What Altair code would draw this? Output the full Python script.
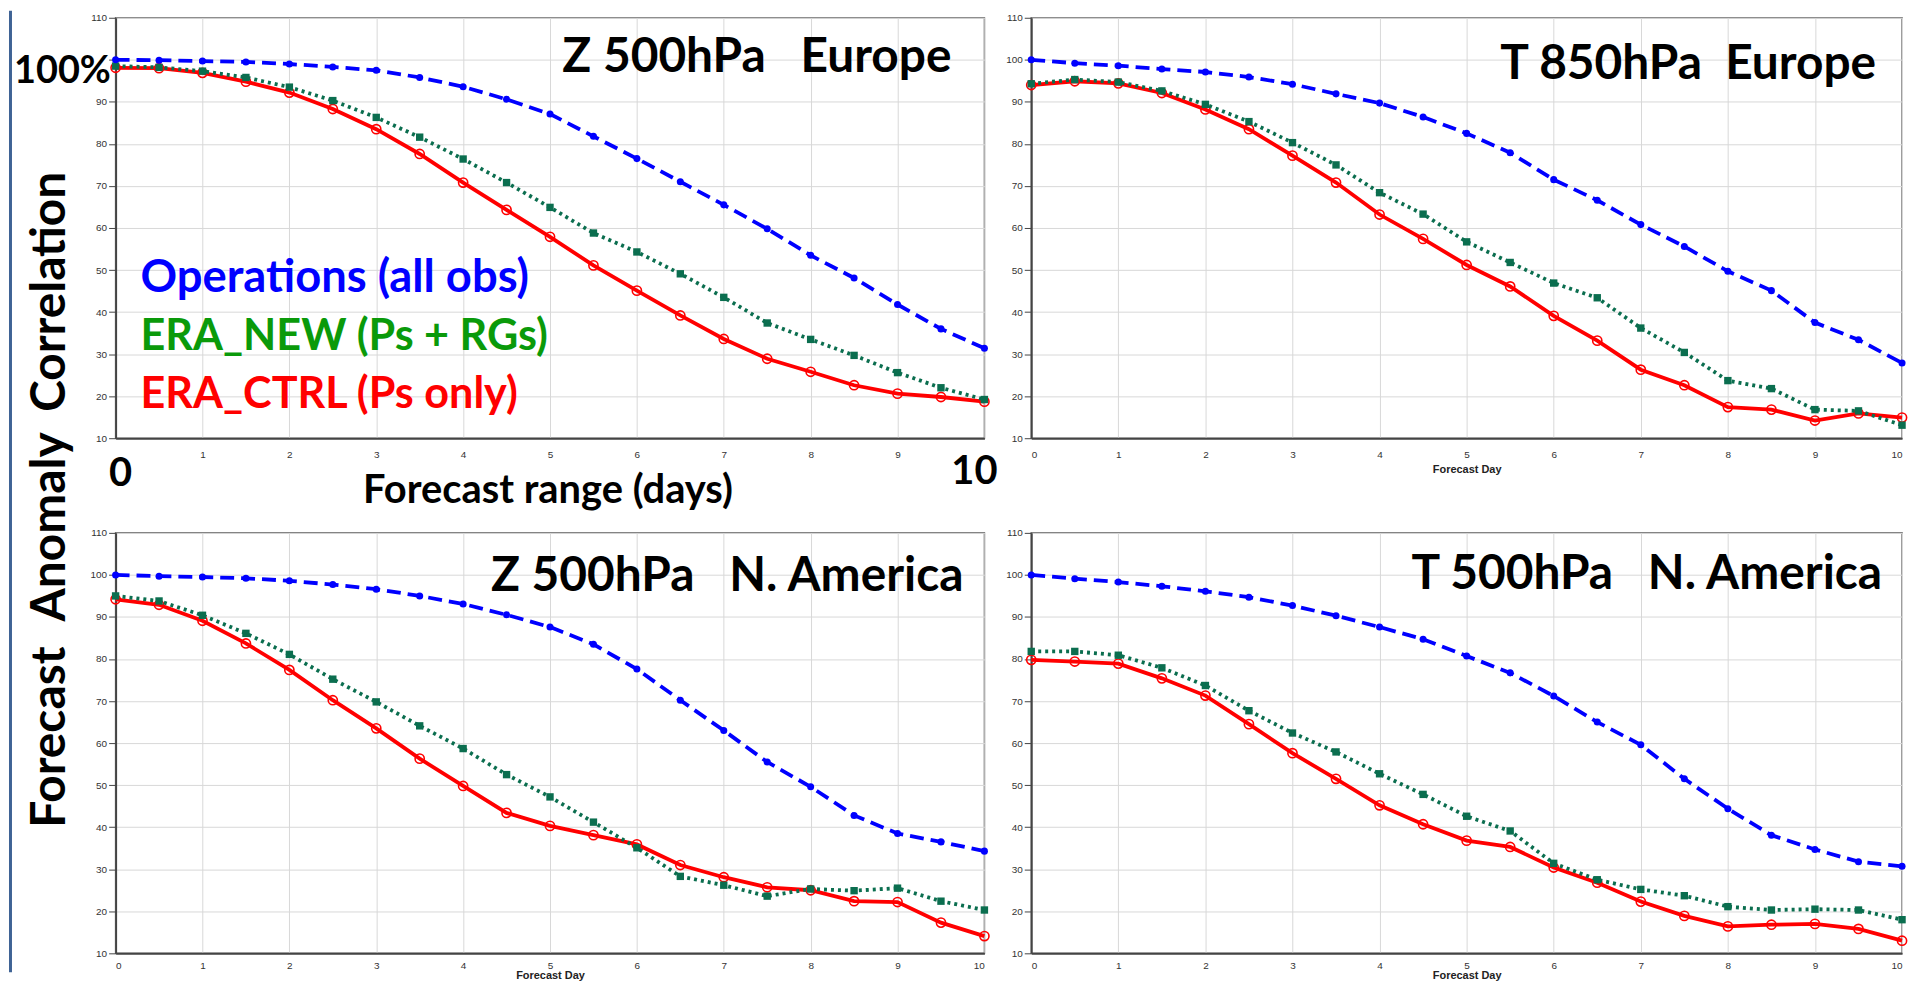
import altair as alt
import pandas as pd

# ---------------- data ----------------
days = [0, 0.5, 1, 1.5, 2, 2.5, 3, 3.5, 4, 4.5, 5, 5.5, 6, 6.5, 7, 7.5, 8, 8.5, 9, 9.5, 10]
x_ticks = [0, 1, 2, 3, 4, 5, 6, 7, 8, 9, 10]
y_ticks = [10, 20, 30, 40, 50, 60, 70, 80, 90, 100, 110]

series_keys = ["ops", "new", "ctrl"]
series_labels = ["Operations (all obs)", "ERA_NEW (Ps + RGs)", "ERA_CTRL (Ps only)"]

panel_keys = ["z500_eu", "t850_eu", "z500_na", "t500_na"]
panel_titles = ["Z 500hPa   Europe", "T 850hPa  Europe", "Z 500hPa   N. America", "T 500hPa   N. America"]

z500_eu_ops = [100, 99.9, 99.7, 99.5, 99.0, 98.3, 97.5, 95.8, 93.6, 90.6, 87.1, 81.8, 76.5, 71.0, 65.5, 59.8, 53.5, 48.1, 41.8, 36.0, 31.4]
z500_eu_new = [98.5, 98.2, 97.3, 95.8, 93.5, 90.3, 86.3, 81.6, 76.4, 70.8, 64.9, 58.8, 54.3, 49.1, 43.5, 37.4, 33.5, 29.7, 25.6, 22.0, 19.2]
z500_eu_ctrl = [98.1, 98.0, 96.9, 94.8, 92.2, 88.3, 83.5, 77.6, 70.8, 64.3, 57.9, 51.1, 45.1, 39.2, 33.6, 28.9, 25.8, 22.6, 20.6, 19.8, 18.7]

t850_eu_ops = [100, 99.2, 98.6, 97.8, 97.1, 95.9, 94.2, 91.9, 89.7, 86.4, 82.5, 77.9, 71.5, 66.6, 60.8, 55.6, 49.7, 45.1, 37.5, 33.4, 27.9]
t850_eu_new = [94.3, 95.3, 94.7, 92.6, 89.4, 85.3, 80.3, 75.0, 68.4, 63.3, 56.7, 51.8, 46.9, 43.4, 36.2, 30.4, 23.7, 21.8, 16.8, 16.5, 13.1]
t850_eu_ctrl = [94.0, 94.9, 94.4, 92.1, 88.2, 83.5, 77.2, 70.8, 63.2, 57.4, 51.2, 46.1, 39.1, 33.2, 26.3, 22.6, 17.4, 16.8, 14.2, 15.9, 14.9]

z500_na_ops = [100, 99.7, 99.5, 99.2, 98.6, 97.7, 96.6, 95.0, 93.1, 90.5, 87.6, 83.5, 77.6, 70.2, 63.0, 55.5, 49.6, 42.8, 38.5, 36.5, 34.3]
z500_na_new = [95.0, 93.8, 90.4, 86.1, 81.1, 75.2, 69.8, 64.1, 58.7, 52.5, 47.2, 41.2, 35.1, 28.3, 26.2, 23.6, 25.3, 24.9, 25.5, 22.4, 20.3]
z500_na_ctrl = [94.2, 92.9, 89.1, 83.7, 77.4, 70.2, 63.5, 56.3, 49.8, 43.4, 40.3, 38.1, 35.9, 31.0, 28.1, 25.7, 25.0, 22.4, 22.2, 17.3, 14.1]

t500_na_ops = [100, 99.1, 98.3, 97.3, 96.1, 94.7, 92.7, 90.3, 87.6, 84.7, 80.7, 76.7, 71.2, 65.0, 59.6, 51.5, 44.4, 38.1, 34.7, 31.8, 30.7]
t500_na_new = [81.8, 81.8, 80.9, 77.9, 73.7, 67.7, 62.4, 57.9, 52.7, 47.8, 42.6, 39.1, 31.4, 27.5, 25.2, 23.7, 21.1, 20.3, 20.5, 20.3, 18.0]
t500_na_ctrl = [79.8, 79.4, 78.9, 75.4, 71.3, 64.5, 57.6, 51.5, 45.2, 40.7, 36.8, 35.3, 30.4, 26.8, 22.3, 18.9, 16.4, 16.8, 17.0, 15.8, 13.0]

annot_y_words = ["Forecast", "Anomaly", "Correlation"]
annot_100 = "100%"
annot_x0 = "0"
annot_x10 = "10"
annot_xtitle = "Forecast range (days)"

# ---------------- table ----------------
values = {
    "z500_eu": [z500_eu_ops, z500_eu_new, z500_eu_ctrl],
    "t850_eu": [t850_eu_ops, t850_eu_new, t850_eu_ctrl],
    "z500_na": [z500_na_ops, z500_na_new, z500_na_ctrl],
    "t500_na": [t500_na_ops, t500_na_new, t500_na_ctrl],
}
rows = []
for pk in panel_keys:
    for sk, vals in zip(series_keys, values[pk]):
        for d, v in zip(days, vals):
            rows.append({"panel": pk, "series": sk, "day": d, "value": v})
df = pd.DataFrame(rows)

NB = "\u00a0"
def nb(s):
    return s.replace(" ", NB)

BLUE = "#0000ff"
GREEN_LINE = "#0b6e4f"
GREEN_TEXT = "#0a9a0a"
RED = "#ff0000"

style = {
    "ops": dict(color=BLUE, dash=[14, 7], shape="circle", filled=True, size=50),
    "new": dict(color=GREEN_LINE, dash=[3, 4], shape="square", filled=True, size=55),
    "ctrl": dict(color=RED, dash=None, shape="circle", filled=False, size=85),
}

FONT = "Lato"


def text_layer(txt, x, y, size, color="black", align="left", angle=0, baseline="alphabetic"):
    kw = dict(font=FONT, fontWeight="bold", fontSize=size, color=color,
              align=align, baseline=baseline)
    if angle:
        kw["angle"] = angle
    return alt.Chart(pd.DataFrame({"t": [nb(txt)]})).mark_text(**kw).encode(
        text="t:N", x=alt.value(x), y=alt.value(y)
    )


def make_panel(i, width, height, title_x, title_y, top_row, first=False, extras=()):
    d = df[df["panel"] == panel_keys[i]]
    xkw = dict(values=x_ticks, grid=True, ticks=False,
               labelPadding=11 if top_row else 7,
               titleY=34 if top_row else 25, titleBaseline="alphabetic")
    ykw = dict(values=y_ticks, grid=True, tickSize=7, labelPadding=2, title=None)
    if first:
        xkw["title"] = None
        xkw["labelExpr"] = "datum.value == 0 || datum.value == 10 ? '' : datum.label"
        ykw["labelExpr"] = "datum.value == 100 ? '' : datum.label"
    else:
        xkw["title"] = "Forecast Day"
    base = alt.Chart(d).encode(
        x=alt.X("day:Q", scale=alt.Scale(domain=[0, 10], nice=False, zero=False), axis=alt.Axis(**xkw)),
        y=alt.Y("value:Q", scale=alt.Scale(domain=[10, 110], nice=False, zero=False), axis=alt.Axis(**ykw)),
    )
    layers = []
    for sk in ["ctrl", "new", "ops"]:
        st = style[sk]
        sub = base.transform_filter(alt.datum.series == sk)
        lkw = dict(color=st["color"], strokeWidth=3.8)
        if st["dash"]:
            lkw["strokeDash"] = st["dash"]
        layers.append(sub.mark_line(**lkw))
        pkw = dict(shape=st["shape"], filled=st["filled"], size=st["size"], color=st["color"], opacity=1)
        if not st["filled"]:
            pkw["strokeWidth"] = 1.6
        layers.append(sub.mark_point(**pkw))
    layers.append(text_layer(panel_titles[i], title_x, title_y, 48, align="right"))
    layers.extend(extras)
    return alt.layer(*layers).properties(width=width, height=height)


# page origin of panel 1 plot: (115, 15)
extras1 = [
    # left border line of the slide
    alt.Chart(pd.DataFrame({"a": [0]})).mark_rect(color="#3f6395").encode(
        x=alt.value(-107), x2=alt.value(-104), y=alt.value(-7), y2=alt.value(958)
    ),
    text_layer(annot_100, -102, 65, 38),
    text_layer(annot_x0, 5, 470, 40, align="center"),
    text_layer(annot_x10, 862, 468, 40, align="center"),
    text_layer(annot_xtitle, 434, 487, 40, align="center"),
    text_layer(series_labels[0], 25, 275, 45.5, color=BLUE),
    text_layer(series_labels[1], 25, 333, 43.3, color=GREEN_TEXT),
    text_layer(series_labels[2], 25, 392, 43.3, color=RED),
    text_layer(annot_y_words[0], -51, 722, 48, align="center", angle=270),
    text_layer(annot_y_words[1], -51, 511, 48, align="center", angle=270),
    text_layer(annot_y_words[2], -51, 275, 48, align="center", angle=270),
]

p1 = make_panel(0, 872, 422, 839, 54, True, first=True, extras=extras1)
p2 = make_panel(1, 874, 422, 848, 61, True)
p3 = make_panel(2, 872, 422, 851, 58, False)
p4 = make_panel(3, 874, 422, 854, 56, False)

chart = alt.concat(
    p1, p2, p3, p4, columns=2, spacing={"row": 95, "column": 47}, bounds="flush"
).properties(padding=0, background="white").configure_view(
    stroke="#777", strokeWidth=1.5
).configure_axis(
    labelFont="Liberation Sans", labelFontSize=10, labelColor="#333",
    gridColor="#d8d8d8", gridWidth=1, domainColor="#444", domainWidth=2,
    tickColor="#444", titleFont="Liberation Sans", titleFontSize=11,
    titleFontWeight="bold", titleColor="#222",
)

chart.save("out.html", embed_options={"renderer": "svg", "actions": False})
